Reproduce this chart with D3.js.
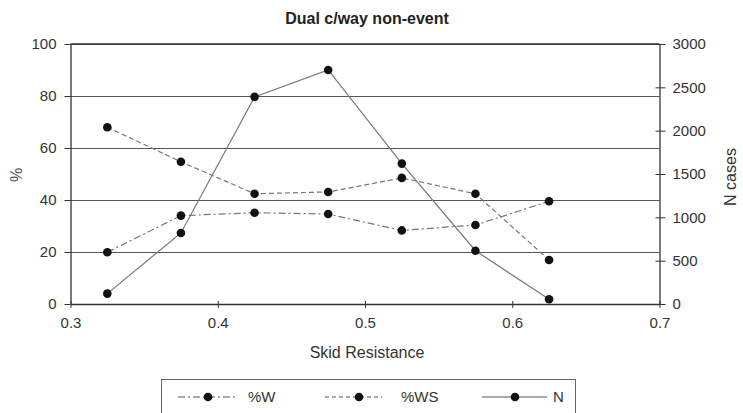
<!DOCTYPE html>
<html><head><meta charset="utf-8">
<script src="https://cdn.jsdelivr.net/npm/d3@7"></script>
<style>body{margin:0;background:#fff}svg{display:block;font-family:"Liberation Sans",Arial,sans-serif}</style>
</head><body><svg id="c" width="743" height="413"></svg>
<script>
const skid = [0.325, 0.375, 0.425, 0.475, 0.525, 0.575, 0.625];
const pctW = [19.9, 34, 35.1, 34.6, 28.3, 30.4, 39.5];
const pctWS = [68, 54.7, 42.4, 43.1, 48.5, 42.4, 16.9];
const nCases = [120, 820, 2390, 2700, 1620, 615, 55];
const xTicks = [0.3, 0.4, 0.5, 0.6, 0.7];
const yLeftTicks = [0, 20, 40, 60, 80, 100];
const yRightTicks = [0, 500, 1000, 1500, 2000, 2500, 3000];

const svg = d3.select("#c");
const L = 70.5, R = 659.5, T = 44, B = 304;
const x = d3.scaleLinear().domain([0.3, 0.7]).range([L, R]);
const yL = d3.scaleLinear().domain([0, 100]).range([B, T]);
const yR = d3.scaleLinear().domain([0, 3000]).range([B, T]);
const txt = "#333";

// gridlines
svg.append("g").selectAll("line").data(yLeftTicks.filter(d => d > 0)).join("line")
  .attr("x1", L).attr("x2", R).attr("y1", d => Math.round(yL(d)) + 0.5).attr("y2", d => Math.round(yL(d)) + 0.5)
  .attr("stroke", "#555").attr("stroke-width", 1);

// axes
const axL = svg.append("g").attr("transform", `translate(${L},0)`)
  .call(d3.axisLeft(yL).tickValues(yLeftTicks).tickSize(6).tickSizeOuter(0).tickPadding(8));
const axR = svg.append("g").attr("transform", `translate(${R},0)`)
  .call(d3.axisRight(yR).tickValues(yRightTicks).tickFormat(d3.format("d")).tickSize(6).tickSizeOuter(0).tickPadding(7));
axR.selectAll(".tick line").attr("x1", -4);
const axB = svg.append("g").attr("transform", `translate(0,${B})`)
  .call(d3.axisBottom(x).tickValues(xTicks).tickFormat(d3.format(".1f")).tickSize(4).tickSizeOuter(0).tickPadding(9));
axB.selectAll(".tick line").attr("y1", -3);
[axL, axR, axB].forEach(a => {
  a.selectAll(".domain").attr("stroke", "#333").attr("stroke-width", 1.3);
  a.selectAll(".tick line").attr("stroke", "#333");
  a.selectAll("text").attr("fill", txt).style("font-size", "15px");
});
// top border
svg.append("line").attr("x1", L).attr("x2", R).attr("y1", T).attr("y2", T).attr("stroke", "#333").attr("stroke-width", 1.3);

// lines
const series = [
  {vals: pctW, scale: yL, dash: "7,3,2,3"},
  {vals: pctWS, scale: yL, dash: "5,3"},
  {vals: nCases, scale: yR, dash: null}
];
series.forEach(s => {
  const line = d3.line().x((d, i) => x(skid[i])).y(d => s.scale(d));
  svg.append("path").datum(s.vals).attr("d", line).attr("fill", "none")
    .attr("stroke", "#777").attr("stroke-width", 1.2).attr("stroke-dasharray", s.dash);
});
series.forEach(s => {
  svg.append("g").selectAll("circle").data(s.vals).join("circle")
    .attr("cx", (d, i) => x(skid[i])).attr("cy", d => s.scale(d)).attr("r", 4.3).attr("fill", "#111");
});

// titles
svg.append("text").attr("x", 367).attr("y", 24).attr("text-anchor", "middle")
  .style("font-size", "16px").style("font-weight", "bold").attr("fill", "#222").text("Dual c/way non-event");
svg.append("text").attr("x", 367).attr("y", 358).attr("text-anchor", "middle")
  .style("font-size", "16px").attr("fill", txt).text("Skid Resistance");
svg.append("text").attr("transform", "translate(22,175) rotate(-90)").attr("text-anchor", "middle")
  .style("font-size", "16px").attr("fill", "#555").text("%");
svg.append("text").attr("transform", "translate(736,177) rotate(-90)").attr("text-anchor", "middle")
  .style("font-size", "16px").attr("fill", txt).text("N cases");

// legend
const lg = svg.append("g");
lg.append("rect").attr("x", 161.5).attr("y", 379.5).attr("width", 414).attr("height", 40)
  .attr("fill", "none").attr("stroke", "#666").attr("stroke-width", 1);
const legendItems = [
  {label: "%W", dash: "7,3,2,3", x0: 178, x1: 236, cx: 208, tx: 248},
  {label: "%WS", dash: "4,3", x0: 325, x1: 382, cx: 359, tx: 401},
  {label: "N", dash: null, x0: 482, x1: 547, cx: 515, tx: 553}
];
legendItems.forEach(it => {
  lg.append("line").attr("x1", it.x0).attr("x2", it.x1).attr("y1", 397).attr("y2", 397)
    .attr("stroke", "#555").attr("stroke-width", 1.1).attr("stroke-dasharray", it.dash);
  lg.append("circle").attr("cx", it.cx).attr("cy", 397).attr("r", 4.3).attr("fill", "#111");
  lg.append("text").attr("x", it.tx).attr("y", 402).style("font-size", "15px").attr("fill", txt).text(it.label);
});
</script></body></html>
